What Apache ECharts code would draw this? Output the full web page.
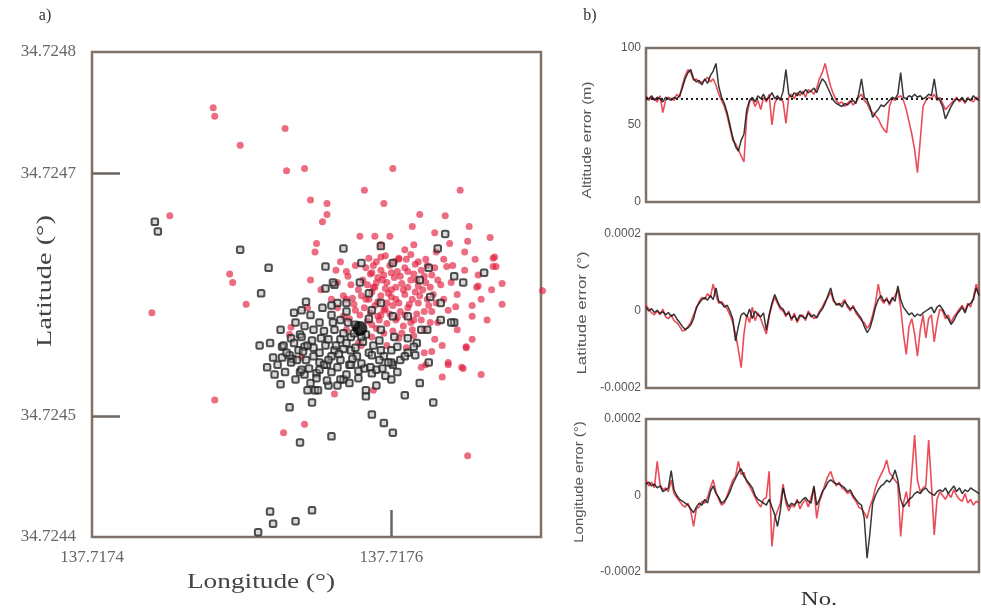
<!DOCTYPE html>
<html>
<head>
<meta charset="utf-8">
<script src="https://cdn.jsdelivr.net/npm/echarts@6/dist/echarts.min.js"></script>
<style>
  html, body { margin: 0; padding: 0; background: #fff; }
  #main { width: 981px; height: 613px; }
</style>
</head>
<body>
<div id="main"></div>
<script>
// a) positions, offsets in micro-degrees from LON0 / LAT0
const LON0 = 137.7174;
const LAT0 = 34.7244;
const lonTickLabels = [137.7174, 137.7176];
const latTickLabels = [34.7248, 34.7247, 34.7245, 34.7244];

// red points (dLon, dLat) x 1e-6 deg
const redPts = [
  [81,354],[82,347],[129,337],[99,323],[130,302],[142,304],[201,304],[182,286],[246,286],[146,278],
  [157,275],[195,275],[157,266],[154,260],[219,266],[236,265],[214,256],[252,256],[266,247],[251,244],
  [52,265],[179,248],[189,248],[199,248],[229,251],[239,242],[150,242],[149,235],[249,235],[256,229],
  [268,230],[301,203],[40,185],[103,192],[92,217],[94,210],[274,209],[274,192],[269,231],[270,223],
  [82,113],[128,86],[142,93],[251,67],[250,156],[260,134],[234,132],[248,139],[238,142],[132,167],
  [162,118],[188,121],[258,207],[223,142],
  [230,235],[215,241],[193,241],[209,237],[205,229],[218,227],[235,229],[268,223],[258,216],[249,220],
  [237,223],[231,212],[240,210],[257,206],[254,191],[254,182],[244,200],[235,196],[238,187],[227,186],
  [231,177],[222,171],[229,163],[227,153],[250,157],[238,144],[247,140],[220,140],[222,152],
  [166,227],[193,231],[187,218],[171,215],[189,206],[200,204],[174,197],[182,189],[191,182],[168,182],
  [164,189],[144,189],[133,173],[195,168],[187,165],[178,160],[140,148],
  [188,224],[193,220],[199,224],[204,219],[209,222],[215,217],[220,220],[191,214],[197,210],[202,214],
  [207,209],[213,212],[218,207],[223,210],[187,202],[193,199],[198,201],[203,196],[209,200],[214,196],
  [219,199],[189,191],[195,187],[201,191],[206,186],[211,189],[217,184],[192,179],[197,176],[203,179],
  [208,174],[213,177],[183,196],[178,204],[181,212],[173,208],[176,187],[170,196],[205,230],[213,233],
  [223,229],[227,216],[228,200],[225,191],[220,179],[215,166],[205,164],[197,158],[210,156],[187,175],
  [160,196],[153,204],[170,171],[180,158],[163,220],[146,212],[176,224],[234,158],[244,171],[254,163],
  [264,179],[260,196],[267,204],
  [185,230],[190,227],[196,232],[202,227],[210,229],[216,225],[224,224],[186,217],[195,216],[200,218],
  [206,215],[211,219],[222,215],[226,206],[184,208],[190,210],[196,205],[203,206],[208,204],[216,202],
  [221,204],[185,196],[191,194],[197,193],[205,193],[212,192],[218,193],[224,196],[186,185],[193,183],
  [199,184],[204,181],[209,183],[215,179],[222,186],[184,178],[190,172],[201,170],[207,168],[214,171],
  [196,188],[200,198],[211,206],[217,212],[194,212],[188,206],[180,199],[175,192],[179,183],[172,180],
  [168,199],[164,210],[170,219],[183,222],[226,177],[230,193],[233,208],[229,222],[243,190],[241,224]
];

// black points (dLon, dLat) x 1e-6 deg
const blackPts = [
  [42,260],[44,252],[99,237],[118,222],[113,201],[156,223],[168,238],[193,240],[231,238],[236,250],
  [112,158],[119,160],[127,157],[117,140],[122,134],[121,148],[127,148],[134,147],[139,136],[132,107],
  [139,78],[160,83],[147,111],[144,121],[149,121],[158,125],[168,130],[183,116],[187,101],[195,94],
  [201,86],[209,117],[219,127],[228,111],[242,177],[119,21],[121,11],[136,13],[147,22],[111,4],
  [233,193],[242,215],[262,218],
  [156,205],[162,208],[164,193],[179,210],[152,177],[148,171],[139,167],[142,157],[148,156],[156,158],
  [162,154],[152,144],[157,142],[166,146],[172,142],[182,139],[187,135],[194,139],[201,142],[206,146],
  [211,152],[216,150],[193,171],[202,165],[211,164],[217,160],[224,171],[233,179],[226,198],
  [201,226],[225,222],[248,210],[240,177],[219,212],[211,182],[220,171],[215,157],[200,144],[209,149],
  [225,144],[195,149],[190,138],
  [161,210],[143,194],[140,165],[128,158],[138,154],[144,158],[148,149],[160,149],[155,142],[164,140],
  [173,142],[198,144],[200,154],[193,154],[185,152],[173,154],[166,163],[162,171],[171,177],[180,226],
  [185,201],[193,193],[201,182],[142,134],[146,127],[151,121],[166,130],[183,121],[200,130],[133,144],
  [140,138],
  [146,183],[160,183],[170,186],[176,175],[183,167],[173,165],[153,164],[136,177],[132,150],[170,134],
  [178,131],[190,125],[160,136],[150,135],[136,130],[129,136],[187,150],[177,149],[168,155],[143,146],
  [166,179],[187,187],[140,187],[133,164],[126,171],
  [135,160],[141,153],[147,162],[152,152],[158,163],[163,158],[170,160],[176,156],[181,161],[188,158],
  [137,146],[145,139],[152,138],[158,146],[165,151],[174,147],[180,143],[186,140],[192,146],[155,170],
  [161,177],[168,168],[175,168],[180,165],[150,131],[157,129],[164,125],[172,127],[178,137],[196,133],
  [204,136],[142,174],[130,152],[124,142],[126,126],[154,189],[160,191],[135,185],[170,193],[185,180],
  [192,162],[204,157]
];
const meanPt = [179,172];

// b) error series, one value per record
const altitudeMean = 67;
const altBlack = [68,67,69,66,68,67,65,68,67,66,68,67,69, 74,80,84,86, 80,78,79,76,80,77,82,85,90, 75,68,
  64,58,50,42,36,33,40,44,60, 66,68,65,69,67,70,66,68,71,67,69,66,72, 86,
  70,68,71,69,72,70,73,71,72,74,71, 76,80,78,74,70,66, 64,63,62,64,63,65,66,64, 70,80,68,66,62,
  55,58,60,63,62,64, 66,68,67,70,84, 68,67,69,68,70,68,69,67,68,70,69,80, 68,66,62, 54,58,62,65,
  67,66,68,65,67,66,69,67,66];
const altRed = [69,66,68,67,65,69,58,66,68,67,66,70,68, 76,82,86,84, 79,80,77,78,79,81,78,80,76, 70,66,
  62,56,48,40,38,34,30,26,56, 65,67,62,66,60,68,65,70,50,64,68,67,65, 51,
  68,70,67,71,69,72,68,73,72,70,74, 80,84,90,82,75,70, 66,64,65,62,64,66,63,65, 68,70,66,64,60,
  58,56,54,50,47,45, 62,67,66,68,69, 66,60,52,44,34,19,40,62,66,68,67,70, 66,68,64, 60,62,64,66,
  68,65,67,64,68,66,65,68,67];

// latitude / longitude errors in micro-degrees
const latBlack = [10,0,6,-4,2, -6,-2,-10,-4,-14,-8,-20, -30,-40,-48,-44,-36,-20, 10,20,30,35,
  28,40,30,60,25, 20,10,15,0,-20, -78,-40,-10, -5,-15,5,-20,0,-10,-15,-5,-50,-10, 20,43,25,
  10,5,-10,-5,-20,-12,-25,-10,-15,-20,-5,-15,-10,-18,-5,5, 20,40,60,30,15,
  20,10,25,15,5,10,0,-10,-20, -40,-56,-45,-20, 10,30,40,25,30, 20,35,25,65,30,10,
  0,-10,-5,-15,-8,-12,-5, 0,5,10,-5,10,15,5,-10, -20,-35,-25,-10,0, 10,-5,15,20,30,60,40];
const latRed = [15,5,-5,-10,0, -10,5,-15,-20,-10,-25,-30, -40,-52,-50,-40,-30,-10, 5,25,35,30,
  45,35,70,40,20, 25,15,5,-10,-30, -60,-100,-147, -60,-10,-30,10,-25,-5,-20,-40,-60,-15, 15,35,20,
  5,0,-15,0,-25,-5,-30,-15,-10,-25,0,-10,-20,-15,0,10, 25,35,50,25,20,
  15,20,30,10,0,15,-5,-15,-25, -30,-45,-35,-10, 20,70,30,20,35, 15,30,40,55,10,-60,
  -113,-40,-20,-60,-117,-50,-10, -70,-20,-10,-80,-30,5,0,-20, -10,-30,-15,-5,5, 15,0,20,10,35,70,45];
const lonBlack = [30,35,25,30, 20,25,10,15,20, 65,15,0,-10, -15,-20,-25,-35,-45,-30,-20,-25,
  -10,-20,10,25,5,-5,-20,-15, -5,10,30,45,60,70,50, 40,30,20,0,-10,-15,-20,-25, -10,-30,-50,-81,-40,
  20,-10,-30,-20,-25,-15,-20,-10,-5,-15,-20,25,-25,-10,10, 20,35,41,35,30,
  30,25,20,10,15,0,-10,-20,-25, -60,-164,-100,-20, 0,15,25,30,40,35,45,67,40,
  -10,-30,-20,-10,-5,5, 10,5,15,20,10,5,0,10, 15,10,20,5,15,25,10,20,5,15,10,20,15,10,5];
const lonRed = [40,25,35,20, 89,30,15,20,10, 40,5,-5,-15, -25,-30,-20,-40,-81,-35,-30,-15,
  -20,-5,20,41,10,-10,-25,-20, 0,20,40,50,89,55,60, 35,25,10,-5,-20,-30,-10,-5, 63,-133,-60,-40,-20,
  30,-20,-40,-25,-30,-10,-35,-20,-10,-30,-5,20,-60,-15,5, 30,50,63,40,25,
  35,20,15,5,10,-5,-15,-30,-35, -45,-60,-30,-10, 20,40,55,70,93,60,50,40,30,
  -107,-20,10,-30,60,158, 40,10,20,25,145,30,-103,-10, 10,0,-10,5,-5,15,0,-10,-15,5,-20,-10,-25,-15,-20];

const frame = '#7d716a';
const serif = '"Liberation Serif", "DejaVu Serif", serif';
const sans = '"Liberation Sans", "DejaVu Sans", sans-serif';

const toLonLat = p => [LON0 + p[0] * 1e-6, LAT0 + p[1] * 1e-6];
const indexed = (arr, k) => arr.map((v, i) => [i, v * k]);

const chart = echarts.init(document.getElementById('main'));

const rightX = i => ({
  gridIndex: i, type: 'value', min: 0, max: altBlack.length - 1,
  axisLine: { show: false }, axisTick: { show: false }, axisLabel: { show: false }, splitLine: { show: false }
});
const rightY = (i, min, max, interval, fmt) => ({
  gridIndex: i, type: 'value', min: min, max: max, interval: interval,
  axisLine: { show: false }, axisTick: { show: false }, splitLine: { show: false },
  axisLabel: { fontFamily: sans, fontSize: 12, color: '#555', margin: 5, formatter: fmt }
});
const degFmt = v => Math.abs(v) < 1e-9 ? '0' : v.toFixed(4);

const lineSeries = (idx, data, color, width) => ({
  type: 'line', xAxisIndex: idx, yAxisIndex: idx, data: data, showSymbol: false,
  lineStyle: { color: color, width: width }, z: 3
});

// rotated / stretched caption helper
const caption = (text, x, y, font, fill, vertical, sx) => ({
  type: 'text', x: x, y: y, rotation: vertical ? Math.PI / 2 : 0, scaleX: sx || 1,
  style: { text: text, font: font, fill: fill, align: 'center', verticalAlign: 'middle' }
});

const option = {
  animation: false,
  grid: [
    { left: 92, top: 52, width: 449, height: 485, show: true, borderColor: frame, borderWidth: 2.5 },
    { left: 646, top: 48, width: 333, height: 154, show: true, borderColor: frame, borderWidth: 2.5 },
    { left: 646, top: 234, width: 333, height: 154, show: true, borderColor: frame, borderWidth: 2.5 },
    { left: 646, top: 419, width: 333, height: 153, show: true, borderColor: frame, borderWidth: 2.5 }
  ],
  xAxis: [
    {
      gridIndex: 0, type: 'value', min: 137.7174, max: 137.7177,
      axisLine: { show: false }, splitLine: { show: false },
      axisTick: { show: true, inside: true, length: 27, customValues: [137.7176],
        lineStyle: { color: '#6e6660', width: 2.5 } },
      axisLabel: { customValues: lonTickLabels, formatter: v => v.toFixed(4),
        fontFamily: serif, fontSize: 17, color: '#666', margin: 12 }
    },
    rightX(1), rightX(2), rightX(3)
  ],
  yAxis: [
    {
      gridIndex: 0, type: 'value', min: 34.7244, max: 34.7248,
      axisLine: { show: false }, splitLine: { show: false },
      axisTick: { show: true, inside: true, length: 28, customValues: [34.7247, 34.7245],
        lineStyle: { color: '#6e6660', width: 2.5 } },
      axisLabel: { customValues: latTickLabels, formatter: v => v.toFixed(4),
        fontFamily: serif, fontSize: 17, color: '#666', margin: 16 }
    },
    rightY(1, 0, 100, 50, v => String(v)),
    rightY(2, -0.0002, 0.0002, 0.0002, degFmt),
    rightY(3, -0.0002, 0.0002, 0.0002, degFmt)
  ],
  graphic: [
    caption('a)', 45, 16, '16px ' + serif, '#333'),
    caption('b)', 590, 16, '16px ' + serif, '#333'),
    caption('Latitude (°)', 45, 281, '21px ' + serif, '#444', true, 1.35),
    caption('Longitude (°)', 261, 582, '21px ' + serif, '#444', false, 1.3),
    caption('Altitude error (m)', 587, 140, '13px ' + sans, '#555', true, 1.2),
    caption('Latitude error (°)', 582, 313, '13px ' + sans, '#555', true, 1.3),
    caption('Longitude error (°)', 579, 482, '13px ' + sans, '#555', true, 1.15),
    caption('No.', 819, 600, '19px ' + serif, '#333', false, 1.3)
  ],
  series: [
    {
      type: 'scatter', xAxisIndex: 0, yAxisIndex: 0, clip: false,
      data: redPts.map(toLonLat), symbol: 'circle', symbolSize: 7,
      itemStyle: { color: 'rgba(226,30,62,0.82)' }
    },
    {
      type: 'scatter', xAxisIndex: 0, yAxisIndex: 0, clip: false,
      data: blackPts.map(toLonLat), symbol: 'roundRect', symbolSize: 6.5,
      itemStyle: { color: 'rgba(170,170,170,0.55)', borderColor: '#262626', borderWidth: 2 }
    },
    {
      type: 'scatter', xAxisIndex: 0, yAxisIndex: 0,
      data: [toLonLat(meanPt)], symbol: 'circle', symbolSize: 15,
      itemStyle: { color: '#000' }, z: 5
    },
    Object.assign(lineSeries(1, indexed(altRed, 1), 'rgba(232,45,60,0.85)', 1.6), {
      markLine: {
        silent: true, symbol: 'none', label: { show: false },
        lineStyle: { color: '#222', type: [2, 3], width: 2 },
        data: [{ yAxis: altitudeMean }]
      }
    }),
    lineSeries(1, indexed(altBlack, 1), 'rgba(20,20,20,0.85)', 1.5),
    lineSeries(2, indexed(latRed, 1e-6), 'rgba(232,45,60,0.85)', 1.6),
    lineSeries(2, indexed(latBlack, 1e-6), 'rgba(20,20,20,0.85)', 1.5),
    lineSeries(3, indexed(lonRed, 1e-6), 'rgba(232,45,60,0.85)', 1.6),
    lineSeries(3, indexed(lonBlack, 1e-6), 'rgba(20,20,20,0.85)', 1.5)
  ]
};

chart.setOption(option);
</script>
</body>
</html>
